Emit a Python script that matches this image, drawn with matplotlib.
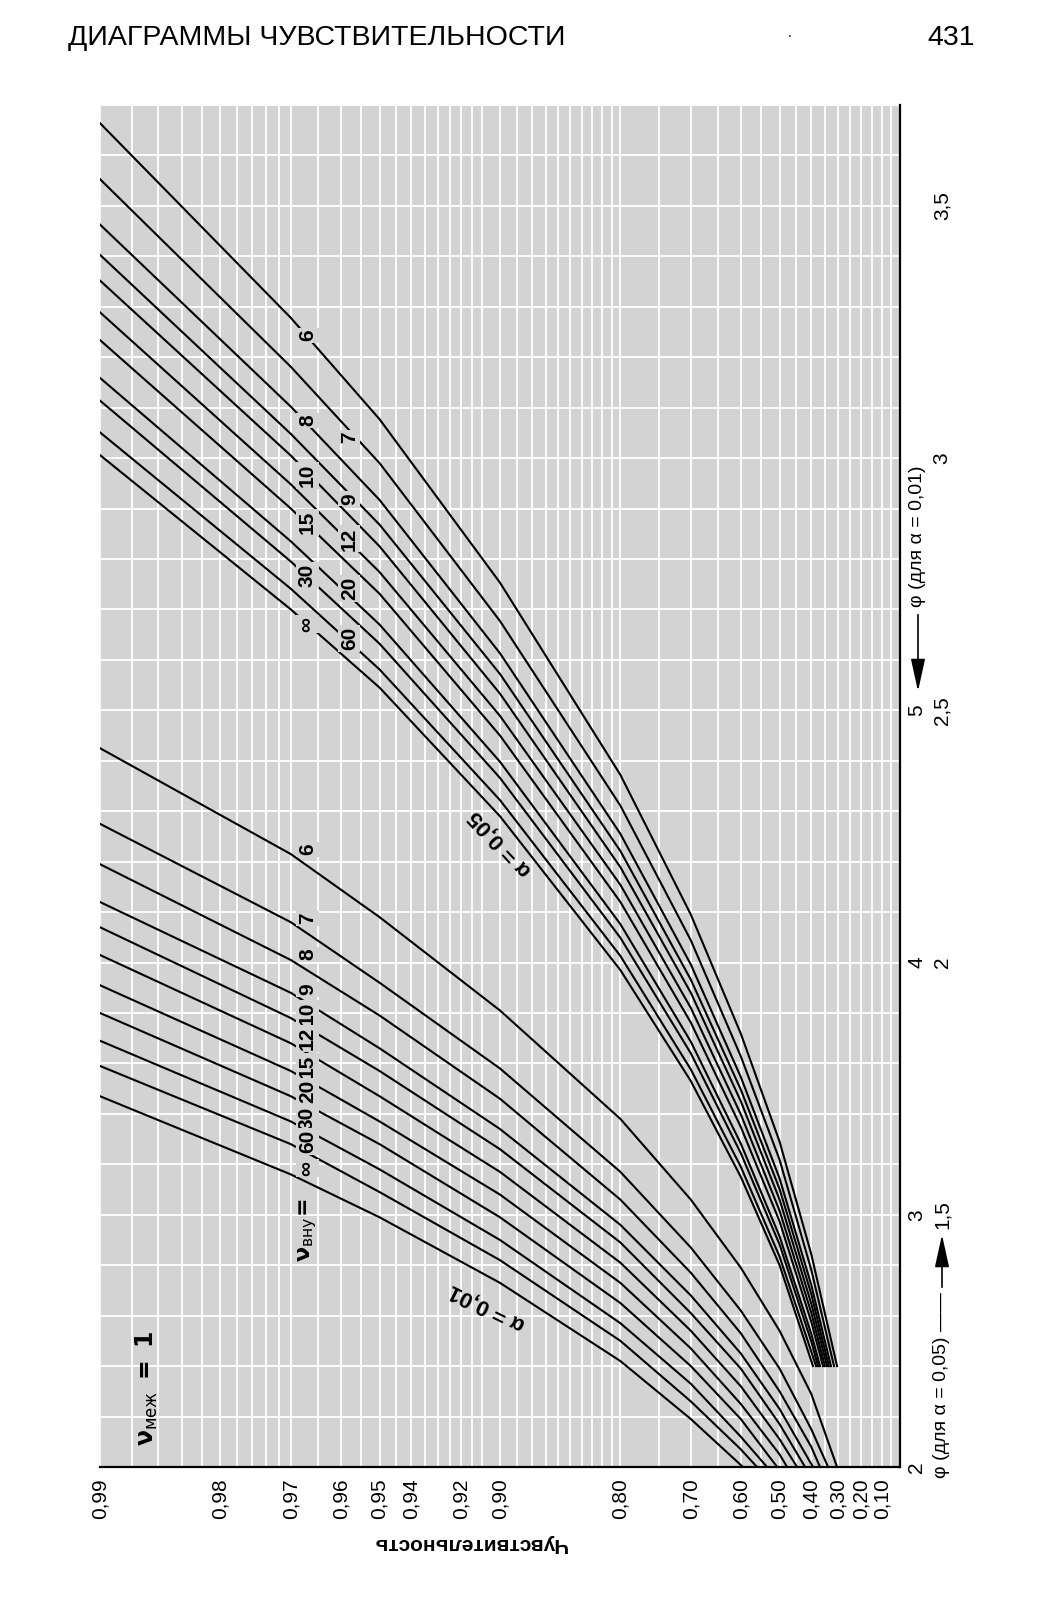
import numpy as np
import matplotlib.pyplot as plt

plt.rcParams['font.family'] = ['Liberation Sans', 'DejaVu Sans']

# curves: nu within groups, same order in every list below
nu = ['6', '7', '8', '9', '10', '12', '15', '20', '30', '60', '∞']
pw_pts = [0.99, 0.97, 0.95, 0.90, 0.80, 0.70, 0.60, 0.50, 0.40]

# alpha = 0,05 family, phi on the 1 .. 3,5 scale; every curve stops at phi = 1,2
phi_05 = [
    [3.664, 3.278, 3.077, 2.753, 2.372, 2.095, 1.859, 1.645, 1.422],
    [3.553, 3.181, 2.990, 2.677, 2.311, 2.044, 1.814, 1.609, 1.391],
    [3.463, 3.102, 2.917, 2.613, 2.255, 1.996, 1.773, 1.572, 1.361],
    [3.403, 3.048, 2.868, 2.572, 2.221, 1.966, 1.748, 1.551, 1.343],
    [3.352, 3.005, 2.825, 2.533, 2.189, 1.940, 1.725, 1.530, 1.324],
    [3.289, 2.948, 2.774, 2.489, 2.154, 1.910, 1.699, 1.508, 1.306],
    [3.234, 2.900, 2.731, 2.450, 2.120, 1.881, 1.674, 1.487, 1.288],
    [3.159, 2.835, 2.670, 2.398, 2.076, 1.843, 1.641, 1.457, 1.264],
    [3.114, 2.795, 2.632, 2.366, 2.049, 1.820, 1.622, 1.441, 1.249],
    [3.051, 2.741, 2.581, 2.322, 2.013, 1.788, 1.595, 1.417, np.nan],
    [3.006, 2.700, 2.545, 2.290, 1.985, 1.765, 1.575, 1.400, np.nan],
]
end_05 = [0.304, 0.316, 0.328, 0.336, 0.343, 0.351, 0.358, 0.369, 0.376, 0.383, 0.394]
stop_05 = 1.2

# alpha = 0,01 family, phi on the 2 .. 5 scale; curves run down to phi = 2
phi_01 = [
    [4.85, 4.43, 4.18, 3.81, 3.38, 3.06, 2.79, 2.54, 2.29],
    [4.55, 4.16, 3.92, 3.58, 3.17, 2.87, 2.62, 2.39, 2.15],
    [4.39, 4.01, 3.79, 3.46, 3.06, 2.77, 2.53, 2.30, 2.08],
    [4.24, 3.88, 3.66, 3.34, 2.96, 2.68, 2.45, 2.23, np.nan],
    [4.14, 3.78, 3.57, 3.26, 2.89, 2.61, 2.39, 2.17, np.nan],
    [4.03, 3.68, 3.47, 3.17, 2.81, 2.54, 2.32, 2.11, np.nan],
    [3.91, 3.57, 3.37, 3.08, 2.73, 2.47, 2.25, 2.05, np.nan],
    [3.80, 3.47, 3.28, 2.99, 2.65, 2.40, 2.19, np.nan, np.nan],
    [3.69, 3.37, 3.18, 2.90, 2.57, 2.33, 2.12, np.nan, np.nan],
    [3.59, 3.28, 3.09, 2.82, 2.50, 2.26, 2.07, np.nan, np.nan],
    [3.47, 3.16, 2.99, 2.73, 2.42, 2.19, np.nan, np.nan, np.nan],
]
end_01 = [0.304, 0.339, 0.369, 0.394, 0.421, 0.447, 0.478, 0.507, 0.535, 0.561, 0.595]
stop_01 = 2.0

# where the nu numbers sit on the curves
lab05_p = [0.967, 0.958, 0.967, 0.958, 0.967, 0.958, 0.967, 0.958, 0.967, 0.958, 0.967]
lab05_phi = [3.244, 3.042, 3.075, 2.919, 2.966, 2.840, 2.873, 2.741, 2.768, 2.642, 2.671]
lab01_p = 0.967
lab01_phi = [4.448, 4.174, 4.032, 3.893, 3.798, 3.699, 3.588, 3.489, 3.382, 3.291, 3.184]

pw_ticks = [0.99, 0.98, 0.97, 0.96, 0.95, 0.94, 0.92, 0.90, 0.80, 0.70,
            0.60, 0.50, 0.40, 0.30, 0.20, 0.10]
pw_minor = [0.988, 0.986, 0.984, 0.982, 0.978, 0.976, 0.974, 0.972, 0.965, 0.955,
            0.945, 0.935, 0.93, 0.925, 0.915, 0.91, 0.89, 0.88, 0.87, 0.86, 0.85,
            0.84, 0.83, 0.82, 0.81, 0.75, 0.65, 0.55, 0.45, 0.35, 0.25, 0.15, 0.05]
phi05_ticks = [1.5, 2.0, 2.5, 3.0, 3.5]
phi01_ticks = [2, 3, 4, 5]

W, H = 1053, 1600
bg = '#d3d3d3'


def fx(px):
    return px / W


def fy(py):
    return 1 - py / H


def fwd(p):
    return -np.log(np.clip(1 - np.asarray(p, float), 1e-9, None))


def inv(u):
    return 1 - np.exp(-np.asarray(u, float))


fig = plt.figure(figsize=(W / 100, H / 100), dpi=100)
fig.patch.set_facecolor('white')
ax = fig.add_axes([fx(100), fy(1467), 800 / W, (1467 - 105) / H])
ax.set_xscale('function', functions=(fwd, inv))
ax.set_xlim(0.99, 0.0)
ax.set_ylim(1.0, 3.7)
ax.set_facecolor(bg)

ax.set_xticks(pw_ticks)
ax.set_xticklabels([f'{t:.2f}'.replace('.', ',') for t in pw_ticks], rotation=90, fontsize=15)
ax.set_xticks(pw_minor, minor=True)
ax.set_yticks(np.arange(1.0, 3.71, 0.1))
ax.set_yticklabels([])
ax.tick_params(which='both', length=0)
ax.tick_params(axis='x', pad=8)
ax.grid(True, which='both', color='white', lw=1.3)
ax.set_axisbelow(True)
for s in ['left', 'top']:
    ax.spines[s].set_visible(False)
for s in ['right', 'bottom']:
    ax.spines[s].set_linewidth(1.6)

for vals, pe in zip(phi_05, end_05):
    v = np.array(vals)
    ok = np.isfinite(v)
    p = list(np.array(pw_pts)[ok]) + [pe]
    f = list(v[ok]) + [stop_05]
    ax.plot(p, f, color='k', lw=1.5)

for vals, pe in zip(phi_01, end_01):
    v = np.array(vals)
    ok = np.isfinite(v)
    p = list(np.array(pw_pts)[ok]) + [pe]
    f = list(v[ok] / 2) + [stop_01 / 2]
    ax.plot(p, f, color='k', lw=1.5)

box = dict(boxstyle='square,pad=0.08', fc=bg, ec='none')
for name, p, f in zip(nu, lab05_p, lab05_phi):
    ax.text(p, f, name, rotation=90, ha='center', va='center', fontsize=15,
            fontweight='bold', bbox=box, zorder=5)
for name, f in zip(nu, lab01_phi):
    ax.text(lab01_p, f / 2, name, rotation=90, ha='center', va='center', fontsize=15,
            fontweight='bold', bbox=box, zorder=5)

# right-hand phi scales
ytr = ax.get_yaxis_transform()
for t in phi05_ticks:
    ax.text(1.0525, t, f'{t:g}'.replace('.', ','), transform=ytr, rotation=90,
            ha='center', va='center', fontsize=15, clip_on=False)
for t in phi01_ticks:
    ax.text(1.021, t / 2, f'{t:g}', transform=ytr, rotation=90,
            ha='center', va='center', fontsize=15, clip_on=False)

fig.text(fx(942), fy(1478), 'φ (для α = 0,05) ——', rotation=90, ha='center', va='bottom',
         fontsize=14)
ax.annotate('', xy=(fx(942), fy(1232)), xytext=(fx(942), fy(1290)), xycoords='figure fraction',
            arrowprops=dict(arrowstyle='-|>,head_length=1.0,head_width=0.22', color='k',
                            lw=1.2, mutation_scale=20))
fig.text(fx(918), fy(607), 'φ (для α = 0,01)', rotation=90, ha='center', va='bottom',
         fontsize=14)
ax.annotate('', xy=(fx(918), fy(694)), xytext=(fx(918), fy(612)), xycoords='figure fraction',
            arrowprops=dict(arrowstyle='-|>,head_length=1.0,head_width=0.22', color='k',
                            lw=1.2, mutation_scale=20))

# labels inside the chart
fig.text(fx(308), fy(1262), r'$\mathbf{\nu}_{\mathrm{вну}}\!\mathbf{=}$', rotation=90,
         ha='center', va='bottom', fontsize=16)
fig.text(fx(147), fy(1388), r'$\mathbf{\nu}_{\mathrm{меж}}\ \mathbf{=\ 1}$', rotation=90,
         ha='center', va='center', fontsize=17)
fig.text(fx(487), fy(1307), 'α = 0,01', rotation=154, ha='center', va='center',
         fontsize=16, fontweight='bold')
fig.text(fx(500), fy(843), 'α = 0,05', rotation=133, ha='center', va='center',
         fontsize=16, fontweight='bold')

fig.text(fx(470), fy(1543), 'Чувствительность', rotation=180, ha='center', va='center',
         fontsize=15, fontweight='bold')

# page header
hdr = ['Liberation Sans Narrow', 'Liberation Sans', 'DejaVu Sans']
fig.text(fx(68), fy(38), 'ДИАГРАММЫ ЧУВСТВИТЕЛЬНОСТИ', ha='left', va='center',
         fontsize=20.5, family=hdr)
fig.text(fx(975), fy(38), '431', ha='right', va='center', fontsize=20.5, family=hdr)
fig.text(fx(790), fy(33), '.', ha='center', va='center', fontsize=10)

fig.savefig('out.png', dpi=100)
